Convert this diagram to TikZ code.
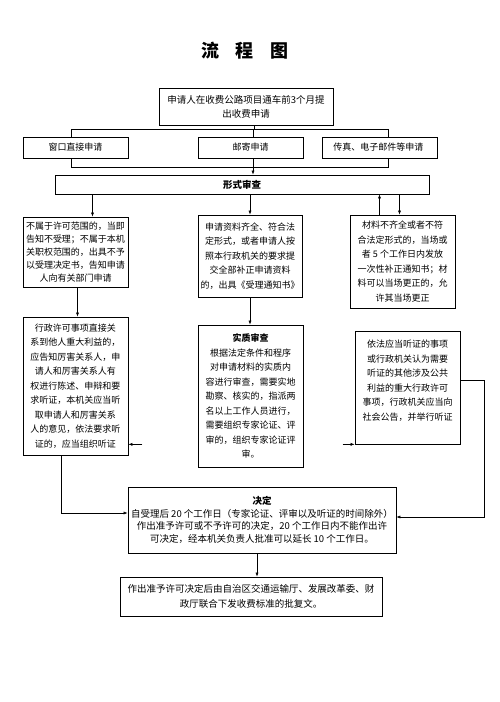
\documentclass[tikz,border=0pt]{standalone}
\usepackage{fontspec}
\setmainfont{Noto Sans CJK SC}
\usetikzlibrary{arrows.meta,backgrounds}
\begin{document}
\begin{tikzpicture}[x=1pt,y=-1pt,
  box/.style={draw,line width=.7pt,fill=white,inner sep=1pt,align=center,
    font=\fontsize{9}{14.5}\selectfont},
  widebox/.style={box,font=\fontsize{9.5}{14}\selectfont},
  arr/.style={-{Latex[length=4pt,width=3pt]},line width=.5pt}]
   \useasboundingbox (0,0) rectangle (499,702);
   \node[font=\bfseries\fontsize{18}{18}\selectfont] (title) at (245,51)
     {流\hspace{.9em}程\hspace{.9em}图};
   \node[widebox,minimum width=174,minimum height=37] (apply) at (246,106.5)
     {申请人在收费公路项目通车前3个月提\\出收费申请};
   \foreach \n/\x/\w/\t in
     {window/75.5/105/{窗口直接申请},
      mail/250.5/105/{邮寄申请},
      fax/379.5/115/{传真、电子邮件等申请}
     }
     \node[box,minimum width=\w,minimum height=21] (\n) at (\x,147.5) {\t};
   \node[box,font=\bfseries\fontsize{9.5}{14}\selectfont,minimum width=374,minimum height=19]
     (formal) at (242,184.5) {形式审查};
   \node[box,font=\fontsize{9}{13}\selectfont,minimum width=105,minimum height=70]
     (reject) at (75.5,252)
     {不属于许可范围的，当即\\告知不受理；不属于本机\\关职权范围的，出具不予\\以受理决定书，告知申请\\人向有关部门申请};
   \node[box,minimum width=104,minimum height=82] (accept) at (250,256)
     {申请资料齐全、符合法\\定形式，或者申请人按\\照本行政机关的要求提\\交全部补正申请资料\\的，出具《受理通知书》};
   \node[box,minimum width=105,minimum height=93] (supplement) at (402.5,261.5)
     {材料不齐全或者不符\\合法定形式的，当场或\\者 5 个工作日内发放\\一次性补正通知书；材\\料可以当场更正的，允\\许其当场更正};
   \node[box,minimum width=105,minimum height=138] (hearing) at (75.5,386)
     {行政许可事项直接关\\系到他人重大利益的，\\应告知厉害关系人，申\\请人和厉害关系人有\\权进行陈述、申辩和要\\求听证，本机关应当听\\取申请人和厉害关系\\人的意见，依法要求听\\证的，应当组织听证};
   \node[box,minimum width=105,minimum height=142] (review) at (250.5,396)
     {\textbf{实质审查}\\根据法定条件和程序\\对申请材料的实质内\\容进行审查，需要实地\\勘察、核实的，指派两\\名以上工作人员进行，\\需要组织专家论证、评\\审的，组织专家论证评\\审。};
   \node[box,minimum width=105,minimum height=113] (notice) at (407.5,387.5)
     {依法应当听证的事项\\或行政机关认为需要\\听证的其他涉及公共\\利益的重大行政许可\\事项，行政机关应当向\\社会公告，并举行听证\\ \mbox{}};
   \node[widebox,font=\fontsize{9.5}{12.5}\selectfont,minimum width=268,minimum height=66]
     (decide) at (262,520)
     {\textbf{决定}\\自受理后 20 个工作日（专家论证、评审以及听证的时间除外）\\作出准予许可或不予许可的决定，20 个工作日内不能作出许\\可决定，经本机关负责人批准可以延长 10 个工作日。};
   \node[widebox,font=\fontsize{9.5}{15}\selectfont,minimum width=262,minimum height=39]
     (approve) at (251,596.5)
     {作出准予许可决定后由自治区交通运输厅、发展改革委、财\\政厅联合下发收费标准的批复文。};
   \begin{pgfonlayer}{background}
     \coordinate (busL) at (71,129);   \coordinate (busR) at (388,129);
     \coordinate (busLb) at (71,167);  \coordinate (busRb) at (388,167);
     \coordinate (busM) at (253,129);
     \coordinate (applyOut) at ([xshift=8pt]apply.south);
     \draw[line width=.5pt] (applyOut) -- (applyOut |- busL);
     \draw[line width=.5pt] (busL) -- (busR) -- (busRb) -- (busLb) -- cycle;
     \draw[arr] (busM) -- (busM |- formal.north);
     % below the formal check
     \coordinate (rejIn) at ([xshift=17pt]reject.north);
     \coordinate (supUp) at ([xshift=-23pt]supplement.north);
     \coordinate (supIn) at ([xshift=-3pt]supplement.north);
     \draw[arr] (rejIn |- formal.south) -- (rejIn);
     \draw[arr] (accept.north |- formal.south) -- (accept.north);
     \draw[arr] (supUp) -- (supUp |- formal.south);
     \draw[arr] (supIn |- formal.south) -- (supIn);
     \draw[arr] ([xshift=2pt]reject.south) -- ([xshift=2pt]hearing.north);
     \draw[arr] (accept.south) -- (accept.south |- review.north);
     % hearing stubs
     \coordinate (hearStub) at (hearing.east |- notice.south west);
     \draw[arr] ([xshift=14pt]hearStub) -- (hearStub);
     \draw[arr] ([xshift=-12pt]notice.south west) -- (notice.south west);
     % to the decision
     \coordinate (hearOut) at ([xshift=-14pt]hearing.south);
     \draw[arr] (hearOut) |- ([yshift=7pt]decide.west);
     \draw[arr] ([yshift=7pt]notice.east) -- ++(24,0) |- ([yshift=3pt]decide.east);
     \coordinate (decOut) at ([xshift=-5pt]decide.south);
     \draw[arr] (decOut) -- (decOut |- approve.north);
   \end{pgfonlayer}
\end{tikzpicture}
\end{document}
